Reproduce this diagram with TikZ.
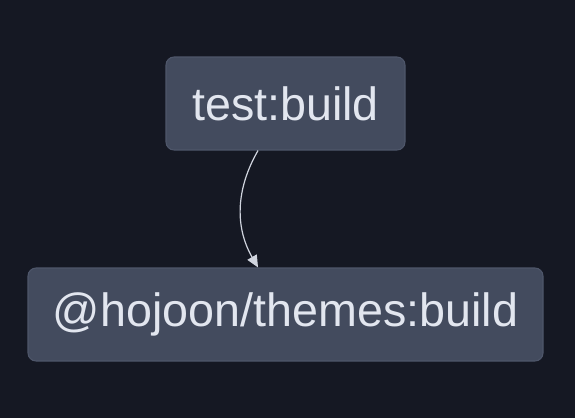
\documentclass[tikz,border=0pt]{standalone}
\usepackage{fontspec}
\setmainfont{Liberation Sans}
\usepackage{xcolor}
\usetikzlibrary{arrows.meta}

\definecolor{bgdark}{HTML}{151823}
\definecolor{boxfill}{HTML}{434B5E}
\definecolor{boxline}{HTML}{4E566A}
\definecolor{boxtext}{HTML}{E2E6EF}
\definecolor{edgecol}{HTML}{D0D4DE}

\tikzset{
  task/.style={draw=boxline,fill=boxfill,rounded corners=6pt,line width=0.8pt,
    text=boxtext,font=\fontsize{35}{42}\selectfont,minimum height=69.75pt,inner sep=0pt},
  dep/.style={draw=edgecol,line width=0.9pt,-{Triangle[length=9pt,width=8pt]}}
}

\begin{document}
\begin{tikzpicture}[x=0.75pt,y=-0.75pt]
\fill[bgdark] (0,0) rectangle (575,418);
\useasboundingbox (0,0) rectangle (575,418);

\node[task,minimum width=179.25pt] (testbuild) at (285.5,103.5) {test:build};
\node[task,minimum width=386.25pt] (themesbuild) at (285.5,314.5) {@hojoon/themes:build};

\draw[dep] ([xshift=-20.6pt]testbuild.south) to[bend right=30] ([xshift=-20.6pt]themesbuild.north);
\end{tikzpicture}
\end{document}
